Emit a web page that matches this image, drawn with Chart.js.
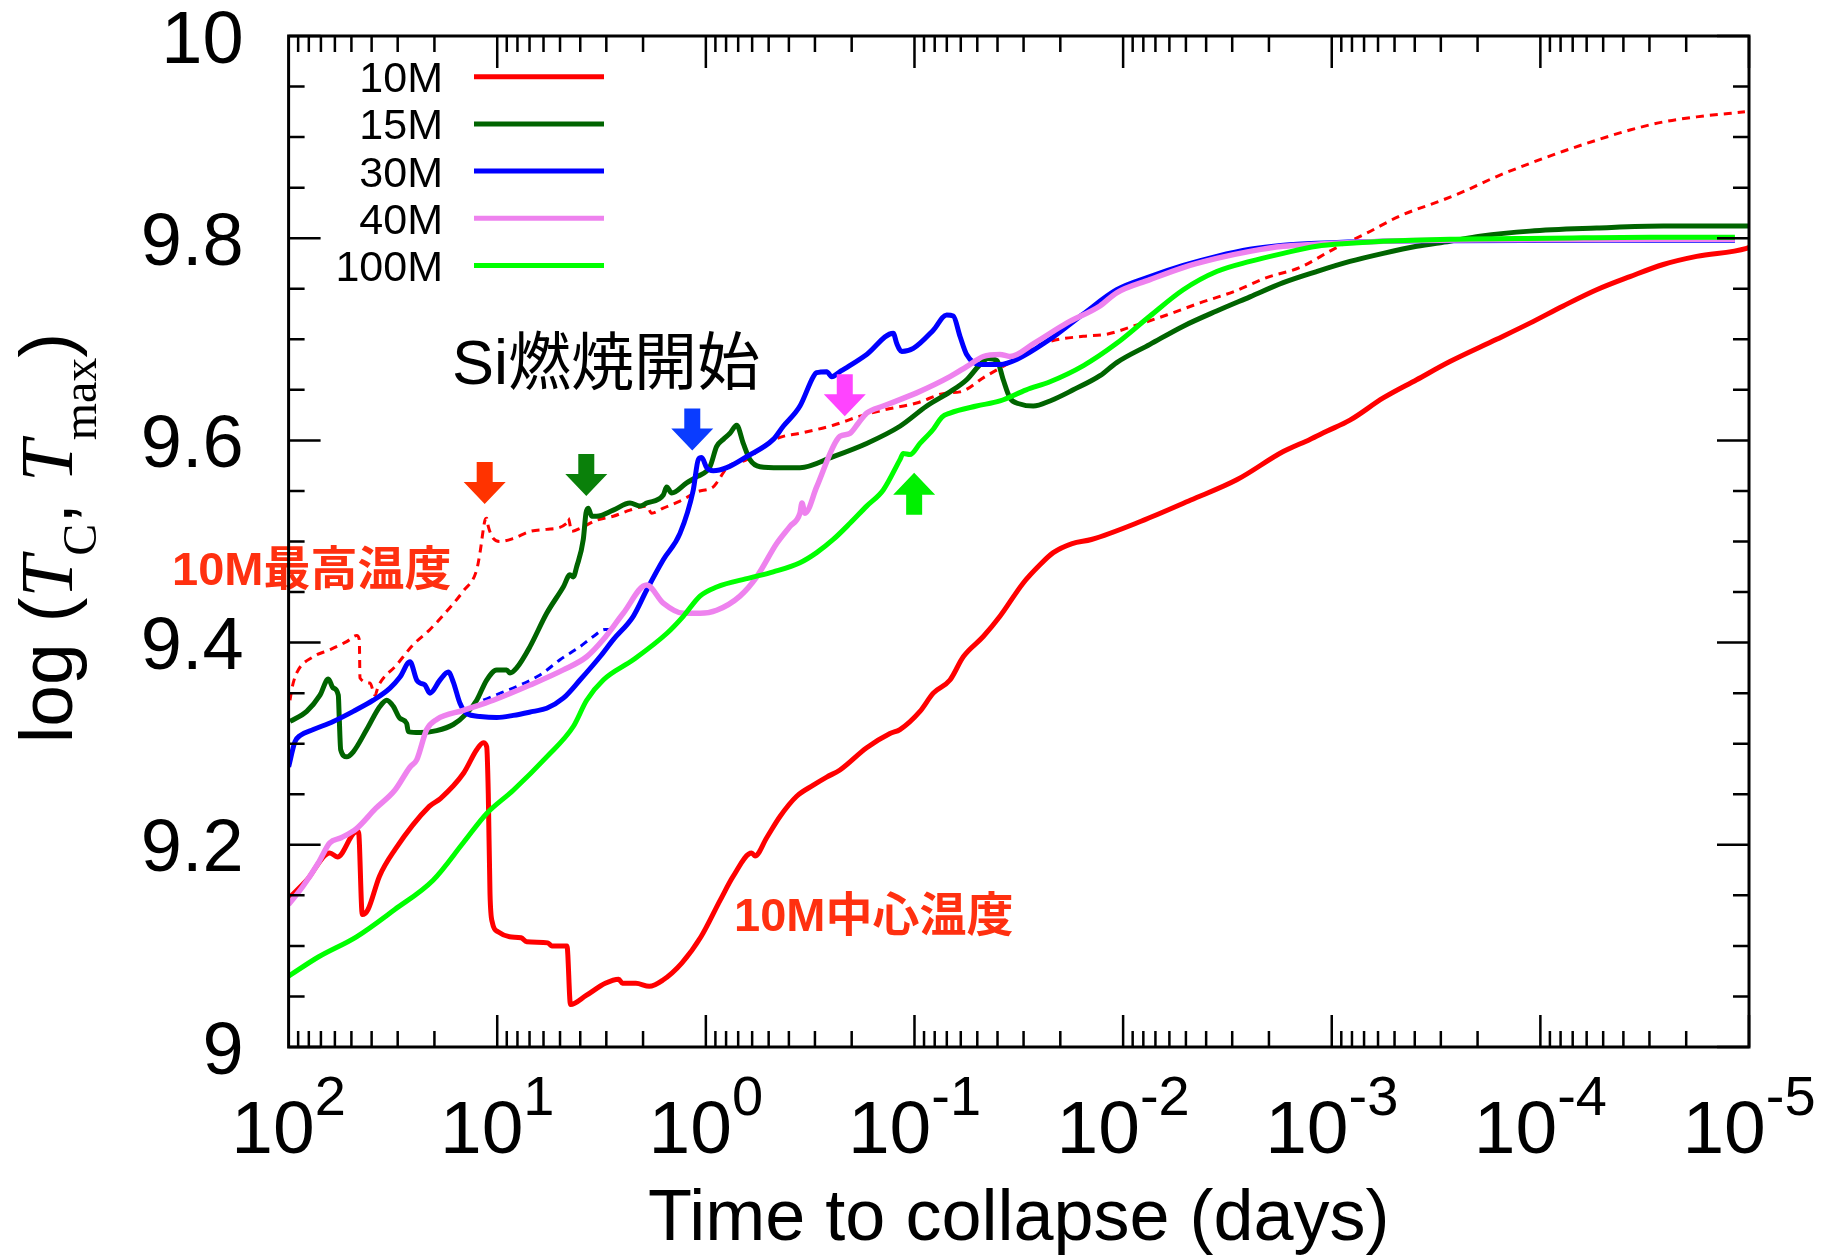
<!DOCTYPE html>
<html><head><meta charset="utf-8">
<script src="https://cdn.jsdelivr.net/npm/chart.js@4.4.1/dist/chart.umd.min.js"></script>
<style>html,body{margin:0;padding:0;background:#fff;}canvas{display:block;}</style>
</head><body>
<canvas id="c" width="1832" height="1255"></canvas>
<script>
// ---- Data: x = log10(time to collapse in days), y = log T ----
const seriesNames = ['10M', '15M', '30M', '40M', '100M'];
const seriesColors = ['#ff0000', '#006400', '#0000ff', '#ee82ee', '#00ff00'];

const lg10M = [2.0, 1.913, 1.8025, 1.766, 1.6746, 1.665, 1.6468, 1.6194, 1.5643, 1.491, 1.3256, 1.271, 1.1608, 1.0985, 1.0668, 1.0505, 1.0429, 1.0347, 1.0232, 0.9964, 0.9408, 0.8861, 0.8583, 0.7572, 0.739, 0.6657, 0.6489, 0.5736, 0.4821, 0.4179, 0.3997, 0.3354, 0.2712, 0.207, 0.1154, 0.0234, -0.0682, -0.1314, -0.2196, -0.2354, -0.2915, -0.3553, -0.4353, -0.5149, -0.5791, -0.6428, -0.7708, -0.8825, -0.9304, -1.0263, -1.09, -1.1701, -1.2338, -1.3297, -1.4097, -1.5214, -1.6014, -1.6652, -1.7558, -1.8478, -2.086, -2.3247, -2.5447, -2.7676, -2.8955, -2.9756, -3.0872, -3.2468, -3.4069, -3.5665, -3.7903, -3.9499, -4.1096, -4.2697, -4.4293, -4.5889, -4.749, -4.9886, -5.0];
const T10M = [9.147, 9.165, 9.192, 9.188, 9.213, 9.213, 9.131, 9.136, 9.169, 9.195, 9.238, 9.246, 9.271, 9.294, 9.301, 9.297, 9.251, 9.152, 9.123, 9.114, 9.109, 9.108, 9.104, 9.103, 9.100, 9.100, 9.042, 9.051, 9.063, 9.067, 9.063, 9.063, 9.060, 9.066, 9.083, 9.109, 9.145, 9.169, 9.192, 9.189, 9.207, 9.228, 9.248, 9.259, 9.267, 9.274, 9.296, 9.310, 9.314, 9.332, 9.350, 9.363, 9.386, 9.406, 9.426, 9.459, 9.477, 9.489, 9.498, 9.502, 9.520, 9.541, 9.561, 9.589, 9.601, 9.609, 9.620, 9.642, 9.660, 9.678, 9.700, 9.716, 9.733, 9.749, 9.762, 9.774, 9.782, 9.790, 9.791];

const lg15M = [1.9933, 1.9132, 1.8495, 1.8097, 1.7858, 1.7618, 1.757, 1.7503, 1.7215, 1.6899, 1.6257, 1.5619, 1.5298, 1.4982, 1.4661, 1.434, 1.4263, 1.3702, 1.2902, 1.2106, 1.1464, 1.0984, 1.0505, 1.0026, 0.9547, 0.9388, 0.9067, 0.843, 0.7629, 0.6834, 0.6513, 0.6354, 0.6192, 0.5875, 0.5746, 0.5636, 0.5473, 0.5233, 0.4437, 0.3637, 0.3158, 0.2837, 0.2041, 0.1878, 0.1638, 0.0919, 0.044, -0.0197, -0.0519, -0.0835, -0.1156, -0.1477, -0.1793, -0.2114, -0.2594, -0.3553, -0.4511, -0.6107, -0.7708, -0.9304, -1.0589, -1.1701, -1.2501, -1.3138, -1.3522, -1.3953, -1.4255, -1.4576, -1.5056, -1.5693, -1.6494, -1.761, -1.889, -1.9691, -2.1287, -2.2883, -2.4484, -2.608, -2.7676, -2.9276, -3.0872, -3.2468, -3.4069, -3.5665, -3.7103, -3.9499, -4.2697, -4.5889, -5.0];
const T15M = [9.322, 9.332, 9.348, 9.364, 9.355, 9.348, 9.324, 9.294, 9.287, 9.292, 9.314, 9.337, 9.343, 9.337, 9.325, 9.320, 9.312, 9.311, 9.313, 9.319, 9.330, 9.343, 9.363, 9.373, 9.373, 9.370, 9.375, 9.396, 9.429, 9.455, 9.467, 9.465, 9.475, 9.502, 9.528, 9.533, 9.525, 9.525, 9.531, 9.538, 9.535, 9.538, 9.546, 9.554, 9.548, 9.558, 9.564, 9.574, 9.594, 9.601, 9.607, 9.615, 9.597, 9.581, 9.574, 9.573, 9.573, 9.584, 9.597, 9.614, 9.634, 9.648, 9.660, 9.675, 9.681, 9.679, 9.660, 9.642, 9.636, 9.634, 9.639, 9.650, 9.664, 9.677, 9.695, 9.713, 9.728, 9.742, 9.756, 9.767, 9.777, 9.785, 9.792, 9.797, 9.802, 9.807, 9.810, 9.812, 9.812];

const lg30M = [2.0, 1.9693, 1.9454, 1.8816, 1.7858, 1.6899, 1.594, 1.514, 1.4661, 1.4181, 1.386, 1.3702, 1.3463, 1.3223, 1.2744, 1.2346, 1.2106, 1.1785, 1.1464, 1.0826, 1.0026, 0.923, 0.8272, 0.7629, 0.6834, 0.6033, 0.5075, 0.4437, 0.3479, 0.2837, 0.2041, 0.124, 0.0603, 0.0363, 0.02, -0.0039, -0.0356, -0.0998, -0.1957, -0.3231, -0.371, -0.4511, -0.5149, -0.5311, -0.5791, -0.6031, -0.6428, -0.6749, -0.7708, -0.8983, -0.9146, -0.9386, -0.9942, -1.09, -1.1543, -1.1859, -1.218, -1.2501, -1.3138, -1.4097, -1.4897, -1.6494, -1.809, -1.9691, -2.1287, -2.2883, -2.4484, -2.608, -2.7676, -2.9276, -3.2468, -3.5665, -4.2855, -4.9325];
const T30M = [9.277, 9.302, 9.308, 9.314, 9.322, 9.332, 9.343, 9.355, 9.366, 9.381, 9.363, 9.360, 9.358, 9.350, 9.363, 9.371, 9.361, 9.340, 9.330, 9.327, 9.326, 9.328, 9.332, 9.335, 9.345, 9.363, 9.386, 9.403, 9.426, 9.452, 9.482, 9.508, 9.551, 9.581, 9.583, 9.573, 9.570, 9.573, 9.584, 9.601, 9.614, 9.634, 9.663, 9.667, 9.668, 9.663, 9.668, 9.672, 9.685, 9.706, 9.696, 9.688, 9.691, 9.709, 9.724, 9.723, 9.703, 9.685, 9.675, 9.675, 9.680, 9.700, 9.725, 9.749, 9.762, 9.773, 9.782, 9.789, 9.793, 9.795, 9.797, 9.7975, 9.798, 9.798];

const lg40M = [2.0, 1.931, 1.8577, 1.8025, 1.7479, 1.6746, 1.5825, 1.491, 1.4177, 1.386, 1.3381, 1.2902, 1.1627, 1.0189, 0.843, 0.6834, 0.5712, 0.4917, 0.3958, 0.2837, 0.2041, 0.1082, 0.0282, -0.0518, -0.1635, -0.2436, -0.3394, -0.4032, -0.4511, -0.4607, -0.4751, -0.5311, -0.6107, -0.6428, -0.6908, -0.7305, -0.7708, -0.8504, -1.0105, -1.1701, -1.2501, -1.3297, -1.4097, -1.4576, -1.5727, -1.7294, -1.889, -1.9691, -2.1287, -2.2883, -2.4484, -2.608, -2.7676, -2.9276, -3.2468, -3.8061, -4.9325];
const T40M = [9.141, 9.159, 9.182, 9.202, 9.207, 9.216, 9.236, 9.254, 9.277, 9.284, 9.314, 9.324, 9.333, 9.343, 9.358, 9.373, 9.386, 9.403, 9.429, 9.457, 9.439, 9.429, 9.429, 9.432, 9.446, 9.465, 9.498, 9.515, 9.528, 9.538, 9.528, 9.554, 9.594, 9.604, 9.607, 9.617, 9.627, 9.634, 9.647, 9.663, 9.673, 9.683, 9.685, 9.683, 9.696, 9.716, 9.733, 9.746, 9.759, 9.771, 9.780, 9.787, 9.792, 9.794, 9.797, 9.7985, 9.799];

const lg100M = [2.0, 1.8577, 1.6746, 1.491, 1.3074, 1.1627, 1.0505, 0.923, 0.7629, 0.6354, 0.5712, 0.4917, 0.3479, 0.1878, 0.1082, 0.0282, -0.0518, -0.2114, -0.3231, -0.4511, -0.5311, -0.6107, -0.6908, -0.7708, -0.8504, -0.9304, -0.9462, -0.9783, -1.0263, -1.09, -1.1317, -1.1701, -1.2971, -1.4097, -1.5358, -1.6494, -1.81, -1.9691, -2.1287, -2.2883, -2.4484, -2.608, -2.7676, -2.9276, -3.0872, -3.2468, -3.5665, -4.0457, -4.5251, -4.9325];
const T100M = [9.070, 9.089, 9.109, 9.136, 9.165, 9.202, 9.231, 9.254, 9.287, 9.317, 9.343, 9.363, 9.383, 9.409, 9.426, 9.446, 9.455, 9.464, 9.470, 9.479, 9.489, 9.502, 9.518, 9.535, 9.551, 9.581, 9.587, 9.586, 9.597, 9.611, 9.623, 9.627, 9.634, 9.639, 9.650, 9.658, 9.674, 9.696, 9.723, 9.749, 9.767, 9.777, 9.785, 9.792, 9.795, 9.797, 9.799, 9.800, 9.801, 9.801];

// 10M maximum temperature (dashed red)
const lg10Mmax = [1.9933, 1.9837, 1.9612, 1.8816, 1.8016, 1.7215, 1.6736, 1.6611, 1.6578, 1.6099, 1.5859, 1.5701, 1.4819, 1.4023, 1.3223, 1.2422, 1.1627, 1.0984, 1.0826, 1.0587, 1.0505, 1.0429, 1.0189, 0.9868, 0.923, 0.843, 0.7629, 0.6671, 0.6594, 0.6431, 0.6033, 0.5233, 0.4437, 0.3637, 0.2837, 0.2597, 0.2041, 0.124, 0.044, -0.0356, -0.0519, -0.0835, -0.0998, -0.1957, -0.2752, -0.3553, -0.4511, -0.6107, -0.7387, -0.8504, -1.0105, -1.1543, -1.218, -1.3378, -1.4806, -1.5535, -1.6494, -1.809, -1.9211, -2.0486, -2.2087, -2.3683, -2.5279, -2.688, -2.8476, -3.0072, -3.1673, -3.3269, -3.5344, -3.6303, -3.7903, -3.9499, -4.1096, -4.2697, -4.4293, -4.5889, -4.749, -4.9805];
const T10Mmax = [9.343, 9.355, 9.370, 9.386, 9.393, 9.401, 9.407, 9.403, 9.365, 9.360, 9.348, 9.357, 9.378, 9.398, 9.413, 9.431, 9.451, 9.472, 9.489, 9.521, 9.523, 9.515, 9.503, 9.500, 9.503, 9.510, 9.512, 9.518, 9.523, 9.510, 9.513, 9.521, 9.525, 9.531, 9.535, 9.528, 9.533, 9.540, 9.549, 9.554, 9.558, 9.568, 9.573, 9.581, 9.594, 9.603, 9.607, 9.615, 9.624, 9.630, 9.637, 9.647, 9.648, 9.663, 9.680, 9.690, 9.698, 9.703, 9.705, 9.713, 9.724, 9.736, 9.747, 9.761, 9.771, 9.789, 9.805, 9.822, 9.838, 9.846, 9.861, 9.874, 9.886, 9.897, 9.907, 9.915, 9.920, 9.925];

// 30M maximum temperature (short dashed blue piece)
const lg30Mmax = [1.0668, 0.7951, 0.6992, 0.6033, 0.5396, 0.4835, 0.4437];
const T30Mmax = [9.343, 9.368, 9.383, 9.396, 9.406, 9.413, 9.413];

// Si-burning onset arrows (tip position)
const arrowLg = [1.0601, 0.5731, 0.0651, -0.6658, -0.9984];
const arrowT = [9.537, 9.545, 9.590, 9.624, 9.568];
const arrowDir = ['down', 'down', 'down', 'down', 'up'];
const arrowColors = ['#ff3300', '#0a800a', '#0a3cff', '#ff44ff', '#00f000'];

// Axis ticks
const xTickExponents = [2, 1, 0, -1, -2, -3, -4, -5];
const yTickValues = [9, 9.2, 9.4, 9.6, 9.8, 10];
const yTickLabels = ['9', '9.2', '9.4', '9.6', '9.8', '10'];

const toPts = (lg, T) => lg.map((v, i) => ({ x: Math.pow(10, v), y: T[i] }));

const SANS = '"Liberation Sans", Arial, Helvetica, sans-serif';
const SERIF = '"Liberation Serif", "Times New Roman", serif';
const CJK = '"Liberation Sans", "Noto Sans CJK JP", sans-serif';

function drawArrow(ctx, px, py, dir, color) {
  const L = 42, H = 22, HW = 21, SW = 8;
  const s = dir === 'down' ? -1 : 1;
  ctx.beginPath();
  ctx.moveTo(px, py);
  ctx.lineTo(px + HW, py + s * H);
  ctx.lineTo(px + SW, py + s * H);
  ctx.lineTo(px + SW, py + s * L);
  ctx.lineTo(px - SW, py + s * L);
  ctx.lineTo(px - SW, py + s * H);
  ctx.lineTo(px - HW, py + s * H);
  ctx.closePath();
  ctx.fillStyle = color;
  ctx.fill();
}

const decor = {
  id: 'decor',
  beforeDraw(chart) {
    const ctx = chart.ctx;
    ctx.save();
    ctx.fillStyle = '#fff';
    ctx.fillRect(0, 0, chart.width, chart.height);
    ctx.restore();
  },
  afterDatasetsDraw(chart) {
    const ctx = chart.ctx;
    const a = chart.chartArea;
    const xs = chart.scales.x, ys = chart.scales.y;
    ctx.save();

    // arrows
    arrowLg.forEach((v, i) => {
      drawArrow(ctx, xs.getPixelForValue(Math.pow(10, v)), ys.getPixelForValue(arrowT[i]), arrowDir[i], arrowColors[i]);
    });

    // annotations
    ctx.textAlign = 'left';
    ctx.textBaseline = 'alphabetic';
    ctx.fillStyle = '#000';
    ctx.font = '63px ' + CJK;
    ctx.fillText('Si燃焼開始', 452, 384);
    ctx.fillStyle = '#ff3010';
    ctx.font = 'bold 47px ' + CJK;
    ctx.fillText('10M最高温度', 172, 585);
    ctx.fillText('10M中心温度', 734, 931);

    // frame
    ctx.strokeStyle = '#000';
    ctx.lineWidth = 3;
    ctx.strokeRect(a.left, a.top, a.right - a.left, a.bottom - a.top);

    // x ticks (log minor)
    ctx.lineWidth = 2.5;
    ctx.beginPath();
    for (let e = -5; e <= 1; e++) {
      for (let k = 1; k <= 9; k++) {
        const v = k * Math.pow(10, e);
        const px = xs.getPixelForValue(v);
        const len = k === 1 ? 32 : 16;
        ctx.moveTo(px, a.bottom); ctx.lineTo(px, a.bottom - len);
        ctx.moveTo(px, a.top); ctx.lineTo(px, a.top + len);
      }
    }
    // y ticks
    for (let i = 0; i <= 20; i++) {
      const v = 9 + i * 0.05;
      const py = ys.getPixelForValue(v);
      const len = (i % 4 === 0) ? 32 : 16;
      ctx.moveTo(a.left, py); ctx.lineTo(a.left + len, py);
      ctx.moveTo(a.right, py); ctx.lineTo(a.right - len, py);
    }
    ctx.stroke();

    // y tick labels
    ctx.fillStyle = '#000';
    ctx.font = '74px ' + SANS;
    ctx.textAlign = 'right';
    yTickValues.forEach((v, i) => {
      ctx.fillText(yTickLabels[i], a.left - 45, ys.getPixelForValue(v) + 26.5);
    });

    // x tick labels 10^n
    ctx.textAlign = 'left';
    xTickExponents.forEach(e => {
      const px = xs.getPixelForValue(Math.pow(10, e));
      ctx.font = '75px ' + SANS;
      const wb = ctx.measureText('10').width;
      ctx.font = '56px ' + SANS;
      const sup = String(e);
      const ws = ctx.measureText(sup).width;
      const x0 = px - (wb + ws) / 2;
      ctx.font = '75px ' + SANS;
      ctx.fillText('10', x0, a.bottom + 106);
      ctx.font = '56px ' + SANS;
      ctx.fillText(sup, x0 + wb, a.bottom + 68);
    });

    // x title
    ctx.textAlign = 'center';
    ctx.font = '72px ' + SANS;
    ctx.fillText('Time to collapse (days)', (a.left + a.right) / 2, a.bottom + 193);

    // y title
    const segs = [
      { t: 'log (', f: '75px ' + SANS, dy: 0 },
      { t: 'T', f: 'italic 75px ' + SERIF, dy: 0 },
      { t: 'C', f: '48px ' + SERIF, dy: 24 },
      { t: ', ', f: '75px ' + SANS, dy: 0 },
      { t: 'T', f: 'italic 75px ' + SERIF, dy: 0 },
      { t: 'max', f: '48px ' + SERIF, dy: 24 },
      { t: ')', f: '75px ' + SANS, dy: 0 }
    ];
    let total = 0;
    segs.forEach(s => { ctx.font = s.f; s.w = ctx.measureText(s.t).width; total += s.w; });
    ctx.save();
    ctx.translate(72, 538);
    ctx.rotate(-Math.PI / 2);
    ctx.textAlign = 'left';
    let cx = -total / 2;
    segs.forEach(s => { ctx.font = s.f; ctx.fillText(s.t, cx, s.dy); cx += s.w; });
    ctx.restore();

    // legend
    ctx.font = '43px ' + SANS;
    ctx.textAlign = 'right';
    seriesNames.forEach((n, i) => {
      const ry = 76.7 + i * 47.2;
      ctx.fillStyle = '#000';
      ctx.fillText(n, 443, ry + 15.5);
      ctx.strokeStyle = seriesColors[i];
      ctx.lineWidth = 5;
      ctx.beginPath();
      ctx.moveTo(474, ry); ctx.lineTo(604, ry);
      ctx.stroke();
    });

    ctx.restore();
  }
};

const common = { pointRadius: 0, pointHoverRadius: 0, cubicInterpolationMode: 'monotone', fill: false, borderJoinStyle: 'round', borderCapStyle: 'butt' };

new Chart(document.getElementById('c'), {
  type: 'line',
  data: {
    datasets: [
      Object.assign({ label: '10M', data: toPts(lg10M, T10M), borderColor: seriesColors[0], borderWidth: 5, order: 4 }, common),
      Object.assign({ label: '15M', data: toPts(lg15M, T15M), borderColor: seriesColors[1], borderWidth: 5, order: 3 }, common),
      Object.assign({ label: '30M', data: toPts(lg30M, T30M), borderColor: seriesColors[2], borderWidth: 5, order: 2 }, common),
      Object.assign({ label: '40M', data: toPts(lg40M, T40M), borderColor: seriesColors[3], borderWidth: 5.5, order: 1 }, common),
      Object.assign({ label: '100M', data: toPts(lg100M, T100M), borderColor: seriesColors[4], borderWidth: 5, order: 0 }, common),
      Object.assign({ label: '10M max', data: toPts(lg10Mmax, T10Mmax), borderColor: '#ff0000', borderWidth: 3, borderDash: [8, 6], order: 6 }, common),
      Object.assign({ label: '30M max', data: toPts(lg30Mmax, T30Mmax), borderColor: '#0000ff', borderWidth: 3, borderDash: [8, 6], order: 5 }, common)
    ]
  },
  options: {
    responsive: false,
    animation: false,
    devicePixelRatio: 1,
    layout: { padding: { left: 288.6, top: 36, right: 83, bottom: 208 } },
    plugins: { legend: { display: false }, tooltip: { enabled: false } },
    scales: {
      x: { type: 'logarithmic', min: 1e-5, max: 1e2, reverse: true, display: false },
      y: { type: 'linear', min: 9, max: 10, display: false }
    }
  },
  plugins: [decor]
});
</script>
</body></html>
